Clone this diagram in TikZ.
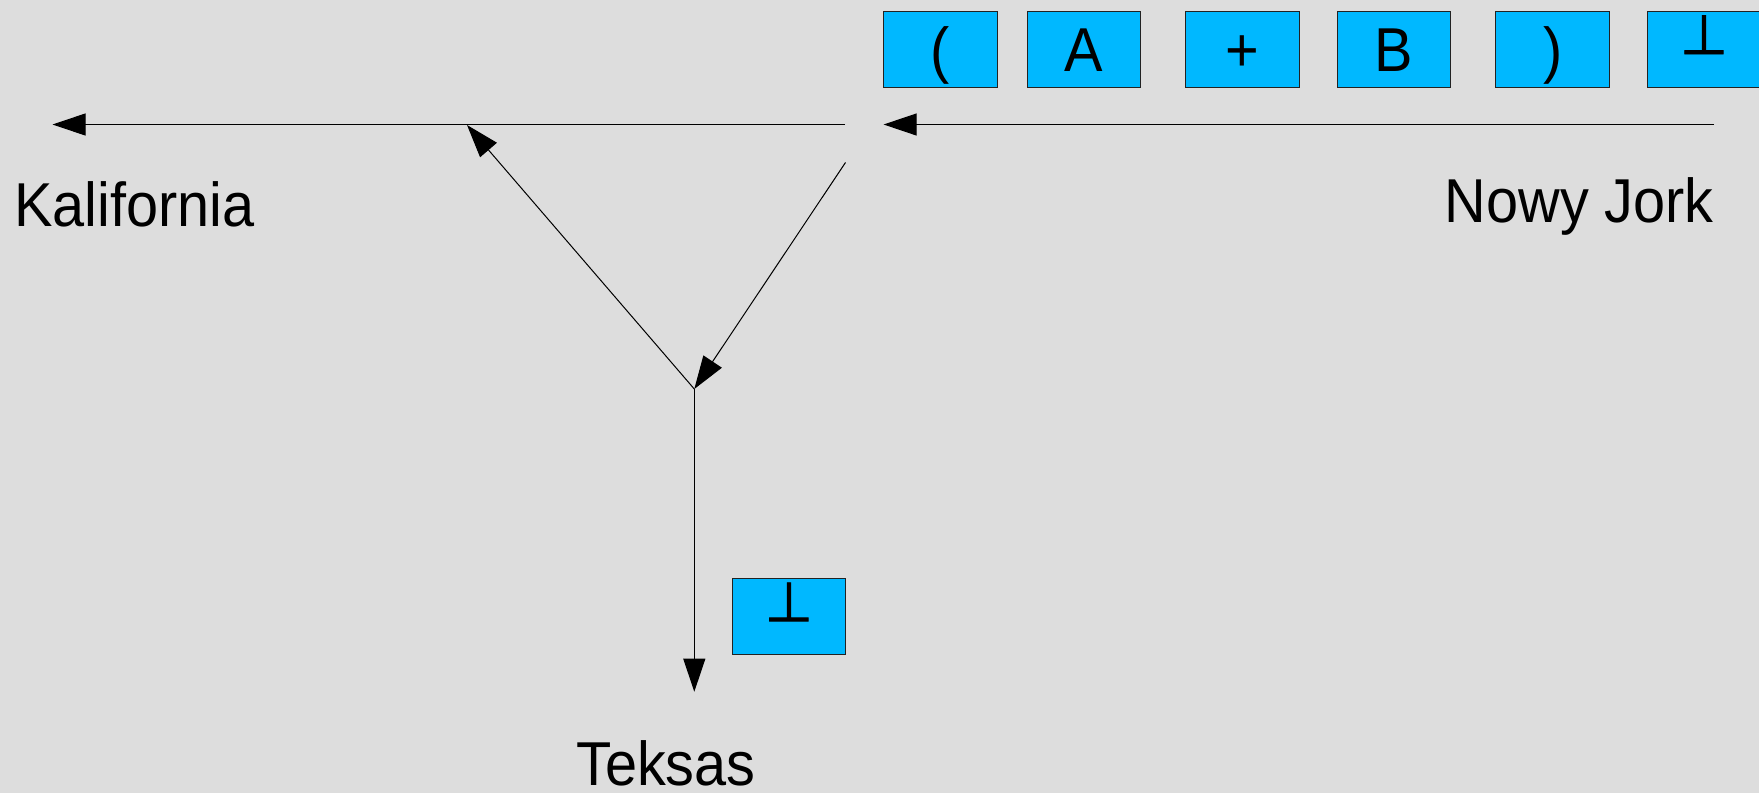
\documentclass[tikz,border=0pt]{standalone}
\usepackage{fontspec}
\setmainfont{Liberation Sans}[FakeStretch=0.93]
\newfontfamily\perpfont{DejaVu Sans}[FakeBold=1.5]
\usetikzlibrary{arrows.meta}
\definecolor{bg}{HTML}{DDDDDD}
\definecolor{boxblue}{HTML}{00B8FF}
\definecolor{boxline}{HTML}{222222}
\begin{document}
\begin{tikzpicture}[x=1pt,y=-1pt,
  tok/.style={draw=boxline,line width=0.9pt,fill=boxblue,minimum width=113.7pt,minimum height=76pt,inner sep=0pt,
    font=\fontsize{62}{70}\selectfont,text height=44.4pt,text depth=0pt},
  perptok/.style={tok,font=\perpfont\fontsize{55}{60}\selectfont,text height=9.4pt},
  place/.style={inner sep=0pt,font=\fontsize{62}{70}\selectfont},
  conn/.style={draw=black,line width=1pt,-{Triangle[length=33pt,width=22pt]}}
]
\fill[bg] (0,0) rectangle (1759,793);
\clip (0,0) rectangle (1759,793);
\useasboundingbox (0,0) rectangle (1759,793);

% token boxes
\node[tok] (t1) at (940.3,49.3) {(};
\node[tok] (t2) at (1083.9,49.3) {A};
\node[tok] (t3) at (1242.7,49.3) {+};
\node[tok] (t4) at (1393.8,49.3) {B};
\node[tok] (t5) at (1552.6,49.3) {)};
\node[perptok] (t6) at (1703.9,49.3) {⊥};
\node[perptok] (tb) at (788.9,616.5) {⊥};

% labels
\node[place,anchor=base west] (kal) at (14,226.7) {Kalifornia};
\node[place,anchor=base east] (ny) at (1714,222.3) {Nowy Jork};
\node[place,anchor=base west] (tex) at (576,785.7) {Teksas};

% track coordinates
\coordinate (nyStart) at (1714,124.5);
\coordinate (nyEnd) at (883.6,124.5);
\coordinate (kalStart) at (845,124.5);
\coordinate (kalEnd) at (52.5,124.5);
\coordinate (diagStart) at (845.5,162.5);
\coordinate (junction) at (694.3,389);
\coordinate (merge) at (467,125);
\coordinate (texEnd) at (694.3,691.7);

\draw[conn] (nyStart) -- (nyEnd);
\draw[conn] (kalStart) -- (kalEnd);
\draw[conn] (diagStart) -- (junction);
\draw[conn] (junction) -- (merge);
\draw[conn] (junction) -- (texEnd);
\end{tikzpicture}
\end{document}
